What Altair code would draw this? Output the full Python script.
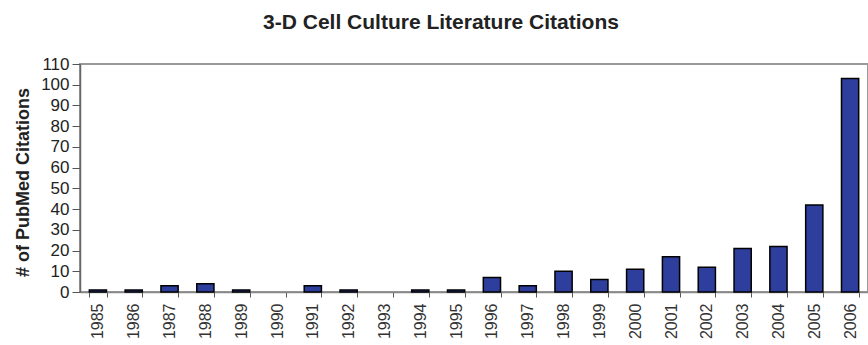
import altair as alt
import pandas as pd

years = [str(y) for y in range(1985, 2007)]
citations = [1, 1, 3, 4, 1, 0, 3, 1, 0, 1, 1, 7, 3, 10, 6, 11, 17, 12, 21, 22, 42, 103]
y_ticks = list(range(0, 111, 10))

df = pd.DataFrame({"Year": years, "Citations": citations})

FONT = "Liberation Sans"

chart = alt.Chart(df).mark_bar(
    color="#2E3E9C", stroke="black"
).encode(
    x=alt.X("Year:N", sort=years, title=None,
            scale=alt.Scale(paddingInner=0.52, paddingOuter=0.26),
            axis=alt.Axis(labelAngle=-90, labelFont=FONT, labelFontSize=16,
                          labelColor="#333333", labelPadding=6,
                          tickBand="extent", tickSize=5, tickColor="#555555",
                          domainColor="#888888", domainWidth=1.5, grid=False)),
    y=alt.Y("Citations:Q", title="# of PubMed Citations",
            scale=alt.Scale(domain=[0, 110], nice=False),
            axis=alt.Axis(values=y_ticks, labelFont=FONT, labelFontSize=17,
                          labelColor="#222222", labelPadding=3,
                          tickSize=8, tickColor="#555555",
                          domainColor="#666666", domainWidth=1.5, grid=False,
                          titleFont=FONT, titleFontSize=18, titleFontWeight="bold",
                          titleColor="#222222", titleAngle=-90,
                          titleX=-57, titleY=118, titleAlign="center",
                          titleBaseline="middle")),
    strokeWidth=alt.condition("datum.Citations > 0", alt.value(1.5), alt.value(0)),
).properties(
    width=788, height=228,
    title=alt.TitleParams("3-D Cell Culture Literature Citations", font=FONT,
                          fontSize=21, fontWeight="bold", color="#222222",
                          anchor="middle", dx=-33, offset=22),
    padding={"left": 80, "top": 64, "right": 0, "bottom": 53},
    autosize=alt.AutoSizeParams(type="none"),
).configure_view(
    stroke="#999999", strokeWidth=2
)

chart.save("out.html", embed_options={"renderer": "svg", "actions": False})
